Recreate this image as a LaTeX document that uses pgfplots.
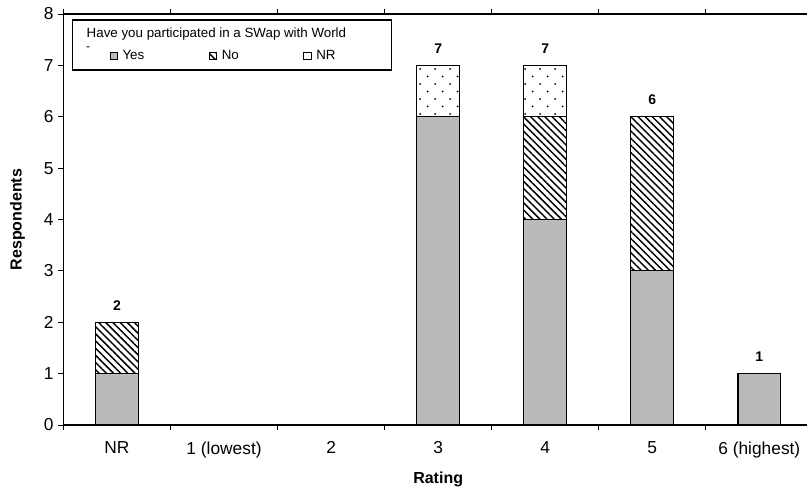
\documentclass[border=0pt]{standalone}
\usepackage{pgfplots}
\pgfplotsset{compat=1.18}
\usepackage{pgfplotstable}
\usepackage{fontspec}
\setmainfont{Liberation Sans}
\usetikzlibrary{patterns,patterns.meta,calc}

\tikzdeclarepattern{
  name=sparsedots,
  type=uncolored,
  bottom left={(-1pt,-1pt)},
  top right={(10.25pt,10.25pt)},
  tile size={(11.25pt,11.25pt)},
  code={
    \fill (0,0) circle (0.75pt);
    \fill (5.625pt,5.625pt) circle (0.75pt);
  }
}

\pgfplotstableread{
x y
0 1
1 0
2 0
3 6
4 4
5 3
6 1
}\yesdata
\pgfplotstableread{
x y
0 1
1 0
2 0
3 0
4 2
5 3
6 0
}\nodata
\pgfplotstableread{
x y
0 0
1 0
2 0
3 1
4 1
5 0
6 0
}\nrdata
\pgfplotstableread{
x total
0 2
3 7
4 7
5 6
6 1
}\totaldata

\pgfplotsset{
  common/.style={
    scale only axis,
    width=562pt, height=308.25pt,
    xmin=-0.5, xmax=6.5, ymin=0, ymax=8,
  }
}

\begin{document}
\begin{tikzpicture}
\begin{axis}[
  common,
  ybar stacked, bar width=0.4,
  xtick={0,...,6},
  xticklabels={NR,1 (lowest),2,3,4,5,6 (highest)},
  minor xtick={-0.5,0.5,...,6.5},
  ytick={0,...,8},
  tick align=outside,
  major tick length=4pt,
  minor tick length=4pt,
  major x tick style={draw=none},
  tick style={black, line width=0.6pt},
  ticklabel style={font=\fontsize{13}{15}\selectfont},
  xticklabel style={yshift=-5pt},
  /pgf/number format/assume math mode=true,
  axis line style={black, line width=0.8pt},
  xlabel={Rating}, ylabel={Respondents},
  every axis x label/.style={at={(axis description cs:0.5,0)}, anchor=center, yshift=-41pt, font=\bfseries\fontsize{12}{14}\selectfont},
  every axis y label/.style={at={(axis description cs:0,0.5)}, rotate=90, anchor=center, yshift=34.5pt, font=\bfseries\fontsize{12}{14}\selectfont},
  every axis plot/.append style={draw=black, line width=0.9pt},
  legend columns=3,
  legend image code/.code={\draw[#1, line width=0.5pt] (0pt,-2.8pt) rectangle (5.6pt,2.8pt);},
  legend style={draw=none, fill=none, inner sep=0pt,
    at={(rel axis cs:0.0614,0.898)}, anchor=west,
    font=\fontsize{10}{12}\selectfont,
    /tikz/every odd column/.append style={column sep=1.5pt},
    /tikz/every even column/.append style={column sep=46.5pt}},
]
\draw[black, line width=0.8pt, fill=white] (rel axis cs:0.012,0.9854) rectangle (rel axis cs:0.4376,0.8638);
\coordinate (ttl) at (rel axis cs:0.0307,0.942);
\coordinate (dsh) at (rel axis cs:0.033,0.915);

\addplot[fill=black!27] table[x=x, y=y] {\yesdata};
\addlegendentry{Yes}
\addplot[pattern={Lines[angle=-45, distance=3.8pt, line width=1.1pt]}] table[x=x, y=y] {\nodata};
\addlegendentry{No}
\addplot[pattern=sparsedots] table[x=x, y=y] {\nrdata};
\addlegendentry{NR}
\end{axis}
\begin{axis}[
  common, hide axis, clip=false,
  ybar, bar width=0.4,
]
\addplot[draw=none, fill=none,
  nodes near coords, point meta=explicit symbolic,
  nodes near coords style={font=\bfseries\fontsize{10.5}{12}\selectfont, anchor=south, yshift=5.5pt, text=black}]
  table[x=x, y=total, meta=total] {\totaldata};
\end{axis}
\node[anchor=base west, inner sep=0pt, font=\fontsize{10}{12}\selectfont] at (ttl) {Have you participated in a SWap with World};
\node[anchor=center, inner sep=0pt, font=\fontsize{9}{10}\selectfont] at (dsh) {-};
\pgfresetboundingbox
\path ($(current axis.south west)+(-47.6pt,-48pt)$) rectangle ($(current axis.north west)+(557.6pt,10.5pt)$);
\end{tikzpicture}
\end{document}
